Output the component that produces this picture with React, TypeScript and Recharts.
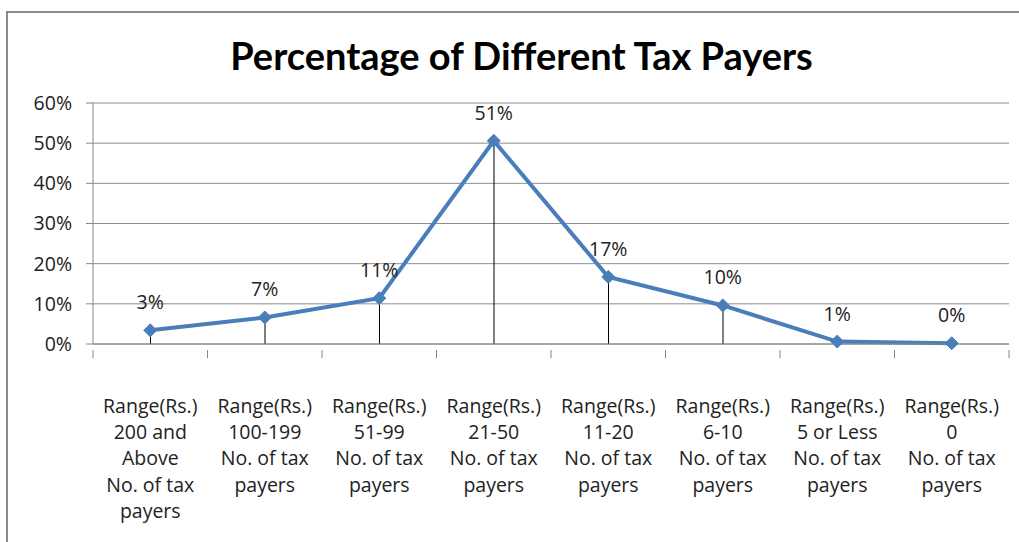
import React from 'react';
import { ComposedChart, Line, Bar, XAxis, YAxis, CartesianGrid, LabelList } from 'recharts';

const categories: string[] = [
  'Range(Rs.)\n200 and\nAbove\nNo. of tax\npayers',
  'Range(Rs.)\n100-199\nNo. of tax\npayers',
  'Range(Rs.)\n51-99\nNo. of tax\npayers',
  'Range(Rs.)\n21-50\nNo. of tax\npayers',
  'Range(Rs.)\n11-20\nNo. of tax\npayers',
  'Range(Rs.)\n6-10\nNo. of tax\npayers',
  'Range(Rs.)\n5 or Less\nNo. of tax\npayers',
  'Range(Rs.)\n0\nNo. of tax\npayers',
];
const percentages: number[] = [3.4, 6.6, 11.4, 50.6, 16.7, 9.6, 0.6, 0.2];
const yTicks: number[] = [0, 10, 20, 30, 40, 50, 60];

const data = categories.map((c, i) => ({ name: c, value: percentages[i] }));

const FONT = '"Open Sans", Lato, sans-serif';
const TITLE_FONT = 'Lato, "Open Sans", sans-serif';
const FS = 19.5;
const W = 1019;
const H = 542;
const MARGIN = { top: 103, right: 10, left: 13, bottom: 0 };
const Y_W = 80;
const PLOT_W = W - MARGIN.left - MARGIN.right - Y_W;
const STEP = PLOT_W / categories.length;

const XTick = (props: any) => {
  const { x, y, payload, index } = props;
  const lines = String(payload.value).split('\n');
  const axisY = y - 2;
  return (
    <g>
      <line x1={x - STEP / 2} x2={x - STEP / 2} y1={axisY} y2={axisY + 8} stroke="#868686" strokeWidth={1} />
      {index === categories.length - 1 && (
        <line x1={x + STEP / 2} x2={x + STEP / 2} y1={axisY} y2={axisY + 8} stroke="#868686" strokeWidth={1} />
      )}
      <text x={x} y={axisY + 63} textAnchor="middle" fontFamily={FONT} fontSize={FS} fill="#222">
        {lines.map((l, i) => (
          <tspan key={i} x={x} dy={i === 0 ? 0 : 26.2}>
            {l}
          </tspan>
        ))}
      </text>
    </g>
  );
};

const Diamond = (props: any) => {
  const { cx, cy } = props;
  if (cx == null || cy == null) return null;
  const r = 6.5;
  return (
    <polygon
      points={`${cx},${cy - r} ${cx + r},${cy} ${cx},${cy + r} ${cx - r},${cy}`}
      fill="#4A7EBB"
      stroke="#4A7EBB"
      strokeWidth={1}
    />
  );
};

const PctLabel = (props: any) => {
  const { x, y, value } = props;
  return (
    <text x={x} y={y - 21} textAnchor="middle" fontFamily={FONT} fontSize={FS} fill="#222">
      {Math.round(value)}%
    </text>
  );
};

export default function App() {
  return (
    <div style={{ position: 'absolute', left: 0, top: 0, width: W, height: H, background: '#fff' }}>
      <div
        style={{
          position: 'absolute',
          left: 6,
          top: 11,
          width: W - 6,
          height: H - 11,
          borderLeft: '2px solid #8a8a8a',
          borderTop: '2px solid #8a8a8a',
          boxSizing: 'border-box',
        }}
      />
      <div
        style={{
          position: 'absolute',
          left: 0,
          width: W,
          top: 32,
          textAlign: 'center',
          fontFamily: TITLE_FONT,
          fontWeight: 700,
          fontSize: 38,
          lineHeight: '46px',
          color: '#000',
          paddingLeft: 24,
          boxSizing: 'border-box',
        }}
      >
        Percentage of Different Tax Payers
      </div>
      <div style={{ position: 'absolute', left: 0, top: 0 }}>
        <ComposedChart width={W} height={H} data={data} margin={MARGIN}>
          <CartesianGrid vertical={false} stroke="#8c8c8c" strokeWidth={1} />
          <XAxis
            dataKey="name"
            interval={0}
            axisLine={{ stroke: '#868686', strokeWidth: 1 }}
            tickLine={false}
            tick={<XTick />}
            height={H - 344 - MARGIN.bottom}
          />
          <YAxis
            domain={[0, 60]}
            ticks={yTicks}
            width={Y_W}
            tickFormatter={(v: number) => `${v}%`}
            axisLine={{ stroke: '#868686', strokeWidth: 1 }}
            tickLine={{ stroke: '#868686' }}
            tickSize={7}
            tickMargin={14}
            tick={{ fontFamily: FONT, fontSize: FS, fill: '#222' }}
          />
          <Bar dataKey="value" barSize={1} fill="#000" isAnimationActive={false} />
          <Line
            type="linear"
            dataKey="value"
            stroke="#4A7EBB"
            strokeWidth={4}
            dot={<Diamond />}
            activeDot={false}
            isAnimationActive={false}
          >
            <LabelList dataKey="value" content={<PctLabel />} />
          </Line>
        </ComposedChart>
      </div>
    </div>
  );
}
